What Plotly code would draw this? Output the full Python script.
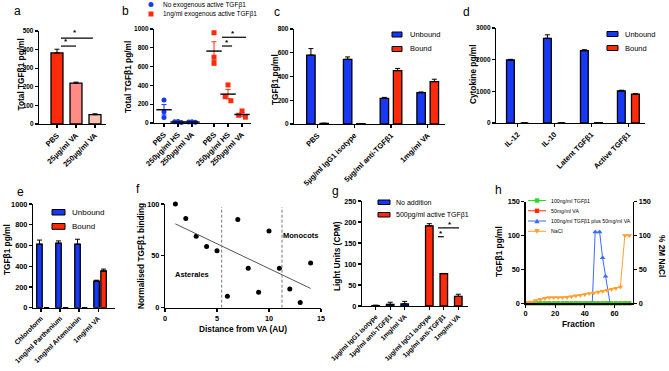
import numpy as np
import plotly.graph_objects as go

W, H = 669, 371
FONT = "Liberation Sans, Arial, Helvetica, sans-serif"
BLUE = "#1738F5"
RED = "#FF2A0A"
GREEN = "#22E022"
ORANGE = "#FFA030"
HBLUE = "#3A6BFF"

# ---------------- data ----------------
a_labels = ["PBS", "25µg/ml VA", "250µg/ml VA"]
a_values = [382, 220, 50]
a_errors = [20, 5, 5]
a_colors = ["#FF2A0A", "#FF8A86", "#FFC2B2"]

b_labels = ["PBS", "250µg/ml HS", "250µg/ml VA", "PBS", "250µg/ml HS", "250µg/ml VA"]
b_no_exogenous = [[245, 120, 58], [15, 12, 5], [12, 10, 8]]
b_exogenous = [[960, 700, 635], [405, 280, 237], [128, 82, 62]]

c_labels = ["PBS", "5µg/ml IgG1 isotype", "5µg/ml anti-TGFβ1", "1mg/ml VA"]
c_unbound = [580, 545, 216, 264]
c_unbound_err = [55, 20, 8, 6]
c_bound = [5, 3, 450, 357]
c_bound_err = [2, 1, 18, 20]

d_labels = ["IL-12", "IL-10", "Latent TGFβ1", "Active TGFβ1"]
d_unbound = [1990, 2675, 2285, 1010]
d_unbound_err = [20, 110, 30, 25]
d_bound = [0, 0, 12, 910]
d_bound_err = [0, 0, 3, 20]

e_labels = ["Chloroform", "1mg/ml Parthenium", "1mg/ml Artemisinin", "1mg/ml VA"]
e_unbound = [612, 622, 612, 257]
e_unbound_err = [40, 22, 48, 8]
e_bound = [0, 0, 0, 354]
e_bound_err = [0, 0, 0, 18]

f_distance = [1, 2, 3, 4, 5, 6, 7, 8, 9, 10, 11, 12, 13, 14]
f_binding = [100, 86, 69, 59, 55, 11, 85, 38, 15, 74, 38, 18, 5, 43]
f_boundaries = [5.45, 11.25]

g_labels = ["1µg/ml IgG1 isotype", "1µg/ml anti-TGFβ1", "1mg/ml VA",
            "1µg/ml IgG1 isotype", "1µg/ml anti-TGFβ1", "1mg/ml VA"]
g_no_addition = [1, 4, 5]
g_no_addition_err = [1, 5, 6]
g_active = [191, 77, 23]
g_active_err = [5, 0.5, 5]

h_fraction = [1, 4, 7, 10, 13, 16, 19, 22, 25, 28, 31, 34, 37, 40, 43, 46, 49, 52,
              55, 58, 61, 64, 67, 70]
h_tgf = [0, 0, 0, 0, 0, 0, 0, 0, 0, 0, 0, 0, 0, 0, 0, 0, 0, 0, 0, 0, 0, 0, 0, 0]
h_va = [0, 0, 0, 0, 0, 0, 0, 0, 0, 0, 0, 0, 0, 0, 0, 0, 0, 0, 0, 0, 0, 0, 0, 0]
h_combo_fraction = [45, 47, 50, 52, 54, 57]
h_combo = [0, 105, 105, 67, 40, 0]
h_nacl = [1, 2, 4, 6, 7.5, 8.4, 8.4, 8.4, 8.4, 9, 10, 11, 12, 13, 14.4, 15.3, 16.8,
          17.8, 19.3, 20.8, 22.3, 24, 100, 100]
h_legend = ["100ng/ml TGFβ1", "50mg/ml VA", "100ng/ml TGFβ1 plus 50mg/ml VA", "NaCl"]


# ---------------- helpers ----------------
def PX(x):
    return x / W


def PY(y):
    return 1 - y / H


def common(size):
    return dict(showline=True, linecolor="black", linewidth=1.2, ticks="outside",
                ticklen=3, tickwidth=1.1, tickcolor="black", showgrid=False,
                zeroline=False, fixedrange=True, automargin=False,
                tickfont=dict(family=FONT, size=size, color="black", weight="bold"))


fig = go.Figure()
layout = {}
shapes = []
anns = []


def ann(text, x, y, size, bold=False, xanchor="center", yanchor="middle", angle=0,
        xref="paper", yref="paper"):
    if xref == "paper":
        x = PX(x)
    if yref == "paper":
        y = PY(y)
    anns.append(dict(text=text, x=x, y=y, xref=xref, yref=yref, showarrow=False,
                     xanchor=xanchor, yanchor=yanchor, textangle=angle,
                     font=dict(family=FONT, size=size, color="black",
                               weight="bold" if bold else "normal")))


def bars(k, x, y, err, color, width):
    n = len(y)
    fig.add_trace(go.Bar(
        x=x, y=y, width=width, xaxis="x%d" % k, yaxis="y%d" % k, showlegend=False,
        marker=dict(color=color, line=dict(color="black", width=1.3)),
        error_y=dict(type="data", array=err, arrayminus=[0] * n, symmetric=False,
                     color="black", thickness=1, width=2.5)))


def set_axes(k, xdom, ydom, xrange, yrange, ytick, xtickvals=None, xticktext=None,
             num_size=6.5, cat_size=7.5, xdtick=None):
    xa = common(cat_size if xticktext else num_size)
    xa.update(domain=[PX(xdom[0]), PX(xdom[1])], anchor="y%d" % k, range=xrange)
    if xticktext:
        xa.update(tickmode="array", tickvals=xtickvals, ticktext=xticktext, tickangle=-45)
    else:
        xa.update(tickmode="linear", tick0=0, dtick=xdtick)
    ya = common(num_size)
    ya.update(domain=[PY(ydom[1]), PY(ydom[0])], anchor="x%d" % k, range=yrange,
              tickmode="linear", tick0=0, dtick=ytick)
    layout["xaxis%d" % k if k > 1 else "xaxis"] = xa
    layout["yaxis%d" % k if k > 1 else "yaxis"] = ya


def sig(k, x0, x1, y, sx, sy):
    shapes.append(dict(type="line", xref="x%d" % k, yref="y%d" % k, x0=x0, x1=x1,
                       y0=y, y1=y, line=dict(color="black", width=1.2)))
    ann("*", sx, sy, 8, True, xref="x%d" % k, yref="y%d" % k)


def legend_rect(x0, x1, y0, y1, color):
    shapes.append(dict(type="rect", xref="paper", yref="paper", x0=PX(x0), x1=PX(x1),
                       y0=PY(y1), y1=PY(y0), fillcolor=color,
                       line=dict(color="black", width=1)))


# ---------------- panel a ----------------
a_x = list(range(len(a_values)))
bars(1, a_x, a_values, a_errors, a_colors, 0.63)
set_axes(1, (39, 106), (31, 124), [-0.947, 2.58], [0, 500], 100, a_x, a_labels)
sig(1, 0.21, 1.0, 419, 0.5, 445)
sig(1, 0.21, 1.89, 462, 0.95, 490)

# ---------------- panel b ----------------
b_pos = [0, 1, 2, 3.57, 4.57, 5.57]
px_per_unit_b = 94 / 1000.0


def jitter(vals, scale, thr=5.0, step=0.24):
    order = sorted(range(len(vals)), key=lambda i: -vals[i])
    clusters = [[order[0]]]
    for i in order[1:]:
        if abs(vals[clusters[-1][-1]] - vals[i]) * scale < thr:
            clusters[-1].append(i)
        else:
            clusters.append([i])
    off = [0.0] * len(vals)
    for cl in clusters:
        if len(cl) == 2:
            pattern = [-0.85, 0.85]
        else:
            pattern = [0, -1, 1, -2, 2][:len(cl)]
        for i, p in zip(cl, pattern):
            off[i] = p * step
    return off


for groups, base, color, symbol in ((b_no_exogenous, 0, BLUE, "circle"),
                                     (b_exogenous, 3, RED, "square")):
    for gi, vals in enumerate(groups):
        xc = b_pos[base + gi]
        offs = jitter(vals, px_per_unit_b)
        fig.add_trace(go.Scatter(
            x=[xc + o for o in offs], y=vals, mode="markers", xaxis="x2", yaxis="y2",
            showlegend=False, cliponaxis=False,
            marker=dict(color=color, symbol=symbol, size=5, line=dict(width=0))))
        m = float(np.mean(vals))
        sem = float(np.std(vals, ddof=1) / np.sqrt(len(vals)))
        fig.add_trace(go.Scatter(
            x=[xc], y=[m], mode="markers", xaxis="x2", yaxis="y2", showlegend=False,
            cliponaxis=False,
            marker=dict(symbol="line-ew-open", size=11, color="black",
                        line=dict(color="black", width=1.4)),
            error_y=dict(type="data", array=[sem], color=color, thickness=1, width=2.5)))
set_axes(2, (154, 251), (29, 123), [-0.714, 6.21], [0, 1000], 200, b_pos, b_labels)
sig(2, 4.14, 4.86, 819, 4.5, 860)
sig(2, 4.14, 5.86, 912, 4.9, 955)

# b legend
shapes.append(dict(type="circle", xref="paper", yref="paper", x0=PX(148.5), x1=PX(153.5),
                   y0=PY(7), y1=PY(2), fillcolor=BLUE, line=dict(width=0)))
shapes.append(dict(type="rect", xref="paper", yref="paper", x0=PX(148.5), x1=PX(153.5),
                   y0=PY(16.5), y1=PY(11.5), fillcolor=RED, line=dict(width=0)))
ann("No exogenous active TGFβ1", 161, 4.5, 6.5, xanchor="left")
ann("1ng/ml exogenous active TGFβ1", 161, 14, 6.5, xanchor="left")

# ---------------- panel c ----------------
c_x = list(range(len(c_labels)))
bars(3, [i - 0.18 for i in c_x], c_unbound, c_unbound_err, BLUE, 0.23)
bars(3, [i + 0.18 for i in c_x], c_bound, c_bound_err, RED, 0.23)
set_axes(3, (294, 445), (29, 124), [-0.64, 3.47], [0, 800], 200, c_x, c_labels)
legend_rect(392, 402, 32, 37, BLUE)
legend_rect(392, 402, 46.5, 51.5, RED)
ann("Unbound", 408, 34.5, 7.5, xanchor="left")
ann("Bound", 408, 49, 7.5, xanchor="left")

# ---------------- panel d ----------------
d_x = list(range(len(d_labels)))
bars(4, [i - 0.19 for i in d_x], d_unbound, d_unbound_err, BLUE, 0.21)
bars(4, [i + 0.19 for i in d_x], d_bound, d_bound_err, RED, 0.21)
set_axes(4, (496, 645), (28, 123), [-0.58, 3.45], [0, 3000], 1000, d_x, d_labels)
legend_rect(607, 618, 31.5, 36.5, BLUE)
legend_rect(607, 618, 45.5, 50.5, RED)
ann("Unbound", 623, 34, 7.5, xanchor="left")
ann("Bound", 623, 48, 7.5, xanchor="left")

# ---------------- panel e ----------------
e_x = list(range(len(e_labels)))
bars(5, e_x, e_unbound, e_unbound_err, BLUE, 0.29)
bars(5, [i + 0.37 for i in e_x], e_bound, e_bound_err, RED, 0.29)
set_axes(5, (33, 115), (204, 307.7), [-0.34, 3.97], [0, 1000], 200,
         [i + 0.08 for i in e_x], e_labels, num_size=7.3, cat_size=6.8)
legend_rect(52, 65, 209.5, 215, BLUE)
legend_rect(52, 65, 223.5, 229.3, RED)
ann("Unbound", 69.5, 212.3, 8, xanchor="left")
ann("Bound", 69.5, 226.5, 8, xanchor="left")

# ---------------- panel f ----------------
fig.add_trace(go.Scatter(x=f_distance, y=f_binding, mode="markers", xaxis="x6",
                         yaxis="y6", showlegend=False, cliponaxis=False,
                         marker=dict(color="black", size=5)))
slope, icpt = np.polyfit(f_distance, f_binding, 1)
fx = [min(f_distance), max(f_distance)]
fig.add_trace(go.Scatter(x=fx, y=[slope * v + icpt for v in fx], mode="lines",
                         xaxis="x6", yaxis="y6", showlegend=False,
                         line=dict(color="#555555", width=1)))
for bx in f_boundaries:
    shapes.append(dict(type="line", xref="x6", yref="y6", x0=bx, x1=bx, y0=0, y1=97,
                       line=dict(color="#777777", width=1, dash="3px,2px")))
set_axes(6, (165, 321), (204, 307.7), [0, 15], [0, 100], 50, num_size=7.3, xdtick=5)
ann("Asterales", 191.5, 274, 7.5, True)
ann("Monocots", 300.5, 235, 7.5, True)
ann("Distance from VA (AU)", 242.5, 329, 8.3, True)

# ---------------- panel g ----------------
g_pos = [0, 1, 2, 3.7, 4.7, 5.7]
bars(7, g_pos[:3], g_no_addition, g_no_addition_err, BLUE, 0.52)
bars(7, g_pos[3:], g_active, g_active_err, RED, 0.52)
set_axes(7, (362, 468), (201, 306), [-0.945, 6.37], [0, 250], 50, g_pos, g_labels,
         num_size=7.3, cat_size=6.6)
sig(7, 4.3, 4.7, 165, 4.5, 172)
sig(7, 4.3, 5.75, 186, 5.1, 193)
legend_rect(378, 390, 200, 204.5, BLUE)
legend_rect(378, 390, 212.5, 217, RED)
ann("No addition", 394, 202.3, 7, xanchor="left")
ann("500pg/ml active TGFβ1", 394, 214.7, 7, xanchor="left")

# ---------------- panel h ----------------
fig.add_trace(go.Scatter(x=h_fraction, y=h_nacl, mode="lines+markers", xaxis="x8",
                         yaxis="y9", showlegend=False, cliponaxis=False,
                         line=dict(color=ORANGE, width=1),
                         marker=dict(symbol="triangle-down", size=5, color=ORANGE)))
fig.add_trace(go.Scatter(x=h_combo_fraction, y=h_combo, mode="lines+markers",
                         xaxis="x8", yaxis="y8", showlegend=False, cliponaxis=False,
                         line=dict(color=HBLUE, width=1),
                         marker=dict(symbol="triangle-up", size=5, color=HBLUE)))
fig.add_trace(go.Scatter(x=h_fraction, y=h_va, mode="lines+markers", xaxis="x8",
                         yaxis="y8", showlegend=False, cliponaxis=False,
                         line=dict(color=RED, width=1),
                         marker=dict(symbol="square", size=4, color=RED)))
fig.add_trace(go.Scatter(x=h_fraction, y=h_tgf, mode="lines+markers", xaxis="x8",
                         yaxis="y8", showlegend=False, cliponaxis=False,
                         line=dict(color=GREEN, width=1),
                         marker=dict(symbol="square", size=4, color=GREEN)))
set_axes(8, (525.5, 633), (201.5, 303.3), [0, 72.5], [0, 150], 50, num_size=7.3,
         xdtick=20)
y9 = common(7.3)
y9.update(domain=layout["yaxis8"]["domain"], anchor="x8", overlaying="y8", side="right",
          range=[0, 150], tickmode="linear", tick0=0, dtick=50)
layout["yaxis9"] = y9
ann("Fraction", 578, 324, 8.3, True)
ann("% 2M NaCl", 662, 256, 8.3, True, angle=90)

h_colors = [GREEN, RED, HBLUE, ORANGE]
h_ys = [200.5, 210.8, 221, 231.3]
for name, col, yy, k in zip(h_legend, h_colors, h_ys, range(4)):
    shapes.append(dict(type="line", xref="paper", yref="paper", x0=PX(528), x1=PX(546),
                       y0=PY(yy), y1=PY(yy), line=dict(color=col, width=1)))
    cx, s = 537, 2.2
    if k < 2:
        shapes.append(dict(type="rect", xref="paper", yref="paper", x0=PX(cx - s),
                           x1=PX(cx + s), y0=PY(yy + s), y1=PY(yy - s), fillcolor=col,
                           line=dict(width=0)))
    else:
        sgn = -1 if k == 2 else 1
        path = "M%f,%f L%f,%f L%f,%f Z" % (PX(cx - 2.6), PY(yy - sgn * 2.2),
                                            PX(cx + 2.6), PY(yy - sgn * 2.2),
                                            PX(cx), PY(yy + sgn * 2.6))
        shapes.append(dict(type="path", xref="paper", yref="paper", path=path,
                           fillcolor=col, line=dict(width=0)))
    ann(name, 548.5, yy, 5.2, xanchor="left")

# ---------------- titles & panel letters ----------------
ann("Total TGFβ1 pg/ml", 20, 74.5, 8.3, True, angle=-90)
ann("Total TGFβ1 pg/ml", 128, 77, 8.3, True, angle=-90)
ann("TGFβ1 pg/ml", 275, 80, 8.3, True, angle=-90)
ann("Cytokine pg/ml", 473, 75, 8.3, True, angle=-90)
ann("TGFβ1 pg/ml", 7, 250, 8.3, True, angle=-90)
ann("Normalised TGFβ1 binding", 141, 256, 8.3, True, angle=-90)
ann("Light Units (CPM)", 337, 256, 8.3, True, angle=-90)
ann("TGFβ1 pg/ml", 499, 252, 8.3, True, angle=-90)

for letter, x, y in (("a", 17, 11), ("b", 125, 11), ("c", 277, 12), ("d", 466, 12),
                     ("e", 20, 192), ("f", 138, 189), ("g", 335, 191), ("h", 498, 190)):
    ann(letter, x, y, 12)

layout.update(width=W, height=H,
              margin=dict(l=0, r=0, t=0, b=0, pad=0, autoexpand=False),
              paper_bgcolor="white", plot_bgcolor="rgba(0,0,0,0)", barmode="overlay",
              showlegend=False, shapes=shapes, annotations=anns, hovermode=False,
              font=dict(family=FONT, color="black"))
fig.update_layout(**layout)
fig.write_html("out.html", config={"displayModeBar": False, "staticPlot": True},
               post_script="document.body.style.margin='0px';"
                           "document.body.style.overflow='hidden';")
